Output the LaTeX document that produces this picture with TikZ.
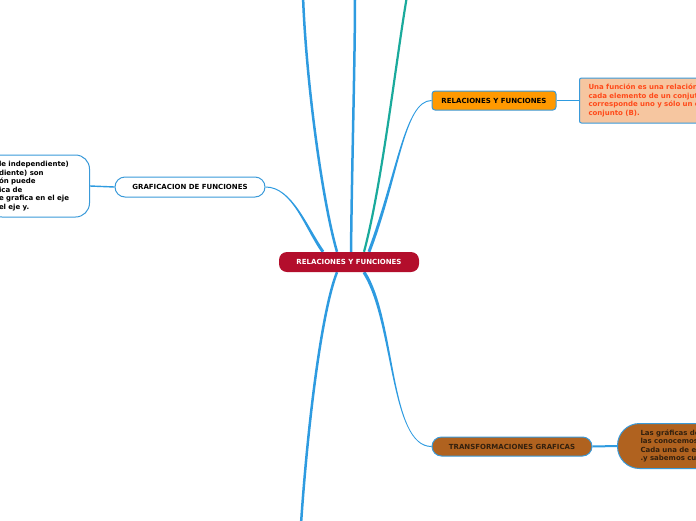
\documentclass[tikz,border=0pt]{standalone}
\usepackage{fontspec}
\setmainfont{DejaVu Sans}
\usetikzlibrary{calc}
\definecolor{lineblue}{HTML}{2E9BE0}
\definecolor{bordblue}{HTML}{3A9AD9}
\definecolor{tealc}{HTML}{1AAA9C}
\definecolor{crim}{HTML}{B30E2C}
\definecolor{orng}{HTML}{FF9900}
\definecolor{peach}{HTML}{F6C6A0}
\definecolor{redtxt}{HTML}{FF4A1A}
\definecolor{brwn}{HTML}{B0621F}
\definecolor{dtxt}{HTML}{33200E}
\pgfdeclarelayer{background}
\pgfsetlayers{background,main}
% tapered connector: P0 P1 P2 P3 halfwidth0 halfwidth3 colour
\newcommand\tapcurve[7]{%
  \fill[#7] ($(#1)!#5!90:(#2)$) .. controls ($(#2)!#5!-90:(#1)$) and ($(#3)!#6!90:(#4)$) .. ($(#4)!#6!-90:(#3)$)
    -- ($(#4)!#6!90:(#3)$) .. controls ($(#3)!#6!-90:(#4)$) and ($(#2)!#5!90:(#1)$) .. ($(#1)!#5!-90:(#2)$) -- cycle;}
\begin{document}
\begin{tikzpicture}[x=1pt,y=-1pt,
  lbl/.style={font=\fontsize{7}{8.4}\bfseries\selectfont, inner sep=0pt},
  desctext/.style={font=\fontsize{7}{8.5}\bfseries\selectfont, align=left},
  bord/.style={draw=bordblue, line width=1pt},
  thick branch/.style={draw=lineblue, line width=2.5pt},
  link/.style={draw=lineblue}]
\useasboundingbox (0,0) rectangle (696,520);

% nodes
\node[lbl, fill=crim, text=white, rounded corners=8pt, minimum width=140pt, minimum height=20pt] (c) at (349,262) {RELACIONES Y FUNCIONES};
\node[lbl, bord, fill=orng, text=black, rounded corners=3pt, minimum width=124pt, minimum height=19pt] (rf) at (494,100.5) {RELACIONES Y FUNCIONES};
\node[desctext, bord, fill=peach, text=redtxt, rounded corners=2pt, anchor=west, minimum height=45pt, inner xsep=9pt, inner ysep=0pt, text width=200pt] (desc) at (579,100.5) {Una función es una relación en\\cada elemento de un conjuto (A)\\corresponde uno y sólo un elemento\\conjunto (B).};
\node[lbl, bord, fill=white, text=black, rounded corners=10pt, minimum width=150pt, minimum height=20pt] (graf) at (190,187) {GRAFICACION DE FUNCIONES};
\node[desctext, bord, fill=white, text=black, rounded corners=14pt, anchor=east, minimum height=62pt, inner xsep=11pt, inner ysep=0pt, text width=79.5pt] (lb) at (90,186) {le independiente)\\diente) son\\ón puede\\ica de\\e grafica en el eje\\el eje y.};
\node[lbl, bord, fill=brwn, text=dtxt, rounded corners=9.5pt, minimum width=160pt, minimum height=19pt] (tr) at (512,446.5) {TRANSFORMACIONES GRAFICAS};
\node[desctext, bord, fill=brwn, text=dtxt, rounded corners=22pt, anchor=west, minimum height=45pt, inner xsep=23pt, inner ysep=0pt, text width=90pt] (trd) at (617,446) {Las gráficas de\\las conocemos\\Cada una de ellas\\.y sabemos cuál};

% connectors
\begin{pgfonlayer}{background}
  \draw[link, line width=1.8pt] (rf.east) -- (desc.west);
  \draw[link, line width=1.4pt] (graf.west) -- (lb.east);
  \draw[link, line width=2pt] (tr.east) -- (trd.west);

  % thick branches leaving the page
  \coordinate (a3) at (303,-4);
  \coordinate (b3) at (355,-4);
  \coordinate (t3) at (407,-4);
  \coordinate (f3) at (301,524);
  \draw[thick branch] ($(c.north)+(-12,0)$) .. controls (322,200) and (306,80) .. (a3);
  \draw[thick branch] ($(c.north)+(2,0)$) .. controls (352,160) and (355,60) .. (b3);
  \draw[thick branch, draw=tealc, line width=2.2pt] ($(c.north)+(15,0)$) .. controls (382,185) and (396,60) .. (t3);
  \draw[thick branch] ($(c.south)+(-12,0)$) .. controls (322,310) and (308,420) .. (f3);

  % tapered branches to the main topics
  \coordinate (d0) at ($(c.north)+(20,0)$);
  \coordinate (d1) at (398,175);
  \coordinate (d2) at ($(rf.west)+(-27,0)$);
  \tapcurve{d0}{d1}{d2}{rf.west}{1.5pt}{0.5pt}{lineblue}
  \coordinate (e0) at ($(c.north)+(-26,0)$);
  \coordinate (e1) at (306,228);
  \coordinate (e2) at ($(graf.east)+(27,0)$);
  \tapcurve{e0}{e1}{e2}{graf.east}{1.5pt}{0.5pt}{lineblue}
  \coordinate (g0) at ($(c.south)+(15,0)$);
  \coordinate (g1) at (395,320);
  \coordinate (g2) at ($(tr.west)+(-42,0)$);
  \tapcurve{g0}{g1}{g2}{tr.west}{1.6pt}{0.5pt}{lineblue}
\end{pgfonlayer}
\end{tikzpicture}
\end{document}
